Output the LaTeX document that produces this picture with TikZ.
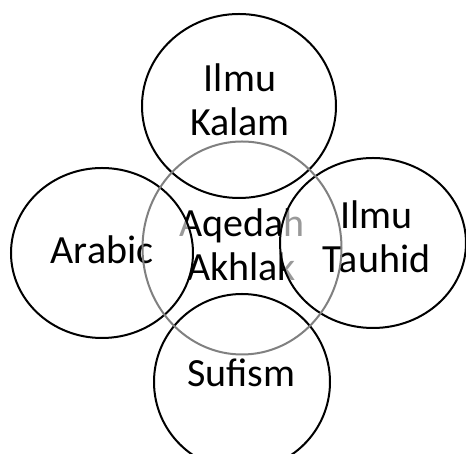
\documentclass[tikz,border=0pt]{standalone}
\usepackage{fontspec}
\setmainfont{Carlito}
\usetikzlibrary{shapes.geometric}
\begin{document}
\begin{tikzpicture}[x=1pt,y=1pt,
  lbl/.style={align=center,font=\fontsize{40}{44}\selectfont,inner sep=0pt,anchor=south},
  outer/.style={draw=black,line width=2pt,fill=white,fill opacity=0.6,draw opacity=1,inner sep=0pt},
  core/.style={draw=black!50,line width=2pt}]
\useasboundingbox (0,0) rectangle (466,454);
% central label (under the outer circles)
\node[lbl] (tcore) at (241.7,173) {Aqedah\\Akhlak};
% outer circles
\node[outer,ellipse,minimum width=194pt,minimum height=184pt] (kalam) at (239,348) {};
\node[outer,ellipse,minimum width=182pt,minimum height=170pt] (arabic) at (102,201) {};
\node[outer,ellipse,minimum width=186pt,minimum height=170pt] (tauhid) at (373,211) {};
\node[outer,circle,minimum size=176pt] (sufism) at (242,72) {};
% labels
\node[lbl] (tkalam) at (240,318) {Ilmu\\Kalam};
\node[lbl] (tarabic) at (102,190) {Arabic};
\node[lbl] (ttauhid) at (376.5,181.3) {Ilmu\\Tauhid};
\node[lbl] (tsufism) at (241.5,67.3) {Sufism};
% central circle outline
\draw[core] (242,206) ellipse [x radius=99.5, y radius=106.5];
\coordinate (corec) at (242,206);
\end{tikzpicture}
\end{document}
